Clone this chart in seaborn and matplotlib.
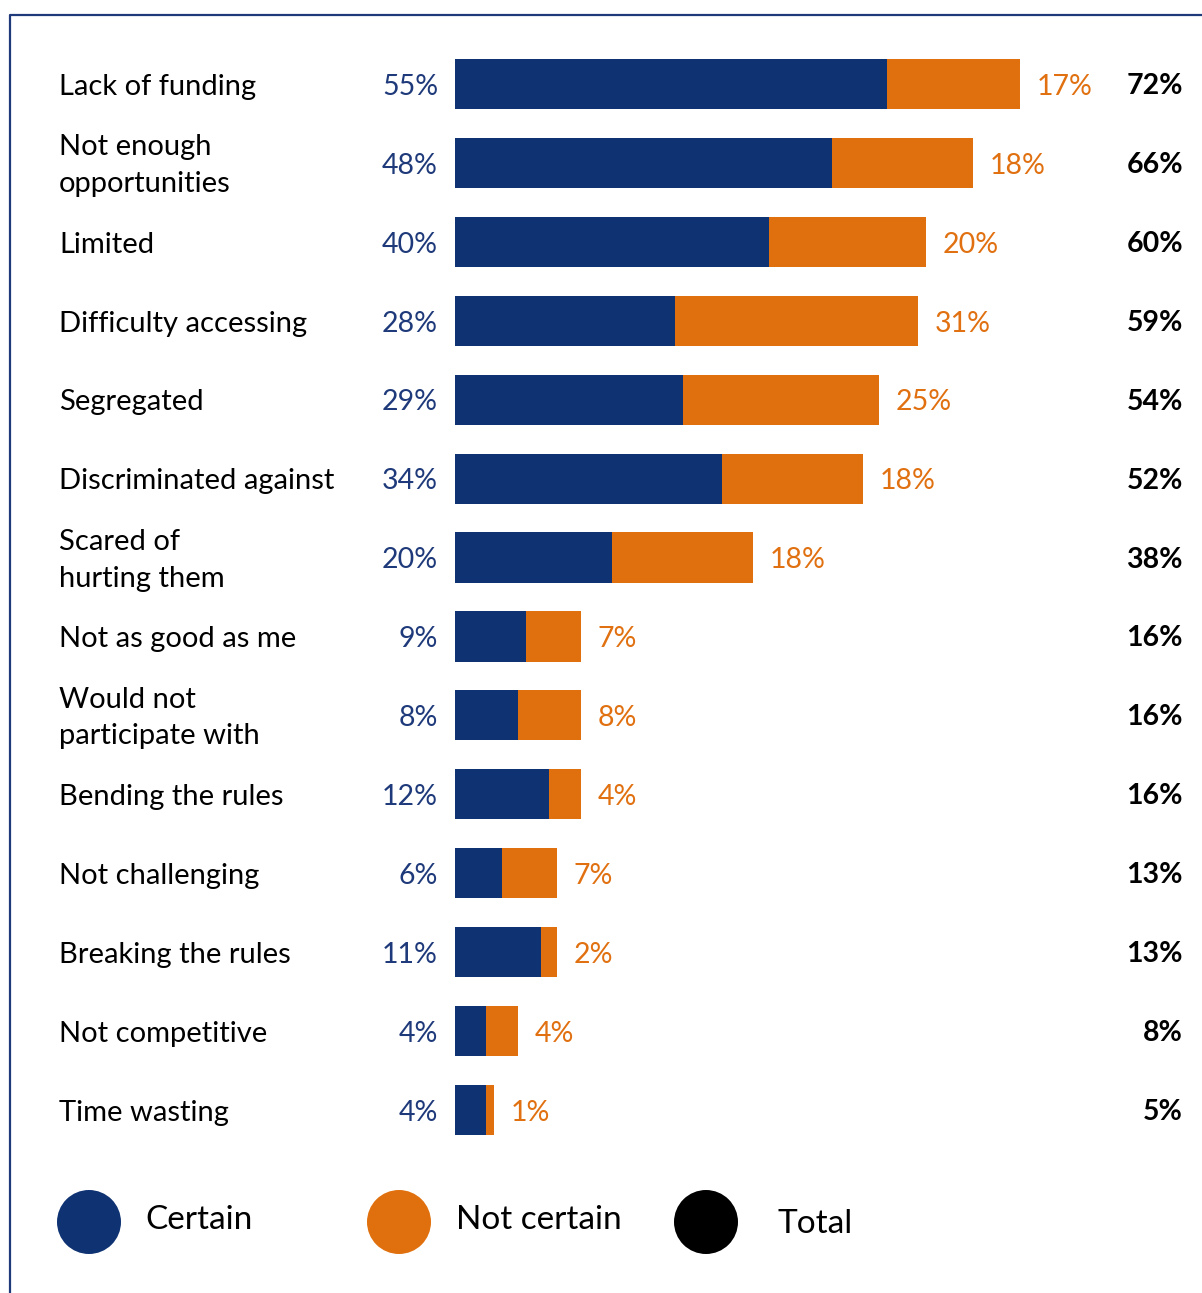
import matplotlib
matplotlib.use("Agg")
import matplotlib.pyplot as plt
from matplotlib.lines import Line2D
from matplotlib.patches import Ellipse
import seaborn as sns
import pandas as pd

# Reasons, share answering "certain" and "not certain" (percent)
reasons = [
    "Lack of funding",
    "Not enough\nopportunities",
    "Limited",
    "Difficulty accessing",
    "Segregated",
    "Discriminated against",
    "Scared of\nhurting them",
    "Not as good as me",
    "Would not\nparticipate with",
    "Bending the rules",
    "Not challenging",
    "Breaking the rules",
    "Not competitive",
    "Time wasting",
]
certain = [55, 48, 40, 28, 29, 34, 20, 9, 8, 12, 6, 11, 4, 4]
not_certain = [17, 18, 20, 31, 25, 18, 18, 7, 8, 4, 7, 2, 4, 1]
legend_labels = ["Certain", "Not certain", "Total"]

BLUE = "#0e3272"
ORANGE = "#e0700d"
BLUE_TXT = "#1f3a7a"
ORANGE_TXT = "#e07010"
FRAME = "#1f3a7a"

sns.set_theme(style="white")
plt.rcParams["font.family"] = ["Lato", "DejaVu Sans"]

df = pd.DataFrame({"reason": reasons, "certain": certain, "not_certain": not_certain})
df["total"] = df["certain"] + df["not_certain"]

W, H = 1202, 1293
fig = plt.figure(figsize=(W / 100, H / 100), dpi=100)

px_per_pct = 7.85
x0 = 455
xmax = 90
ax_w = px_per_pct * xmax
row_top, row_bot = 84, 1110
step = (row_bot - row_top) / (len(reasons) - 1)
top_px = row_top - step / 2
bot_px = row_bot + step / 2
ax = fig.add_axes([x0 / W, 1 - bot_px / H, ax_w / W, (bot_px - top_px) / H])

# stacked bars: full length in orange, certain share on top in blue
sns.barplot(data=df, y="reason", x="total", color=ORANGE, orient="h",
            width=0.635, ax=ax, saturation=1, linewidth=0)
sns.barplot(data=df, y="reason", x="certain", color=BLUE, orient="h",
            width=0.635, ax=ax, saturation=1, linewidth=0)

ax.set_xlim(0, xmax)
ax.set_ylim(len(reasons) - 0.5, -0.5)
ax.axis("off")

fs_cat = 21
fs_pct = 20.5
dy = -2  # nudge text down slightly (points)
for i, row in df.iterrows():
    # category label at the left
    ax.annotate(row["reason"], xy=((59 - x0) / px_per_pct, i), xytext=(0, dy),
                textcoords="offset points", ha="left", va="center",
                fontsize=fs_cat, color="black", linespacing=1.5,
                annotation_clip=False)
    # certain share, right-aligned before the bar
    ax.annotate(f"{row['certain']}%", xy=((438 - x0) / px_per_pct, i), xytext=(0, dy),
                textcoords="offset points", ha="right", va="center",
                fontsize=fs_pct, color=BLUE_TXT, annotation_clip=False)
    # not-certain share after the bar end
    ax.annotate(f"{row['not_certain']}%", xy=(row["total"], i), xytext=(12, dy),
                textcoords="offset points", ha="left", va="center",
                fontsize=fs_pct, color=ORANGE_TXT, annotation_clip=False)
    # total, right column in bold
    fig.text(1183 / W, 1 - (row_top + i * step + 2) / H, f"{row['total']}%",
             ha="right", va="center", fontsize=20.5, fontweight="bold", color="black")

# legend with round markers
leg_y = 1222
for cx, tx, ty, col, lab in [(89, 145, 1220, BLUE, legend_labels[0]),
                             (399, 456, 1220, ORANGE, legend_labels[1]),
                             (706, 778, 1224, "black", legend_labels[2])]:
    fig.add_artist(Ellipse((cx / W, 1 - leg_y / H), 64 / W, 64 / H,
                           transform=fig.transFigure, color=col, lw=0))
    fig.text(tx / W, 1 - ty / H, lab, ha="left", va="center",
             fontsize=24, color="black")

# frame along the top and left
fig.add_artist(Line2D([10.5 / W, 10.5 / W, 1], [0, 1 - 14.5 / H, 1 - 14.5 / H],
                      transform=fig.transFigure, color=FRAME, lw=1.6))

fig.savefig("out.png", dpi=100)
